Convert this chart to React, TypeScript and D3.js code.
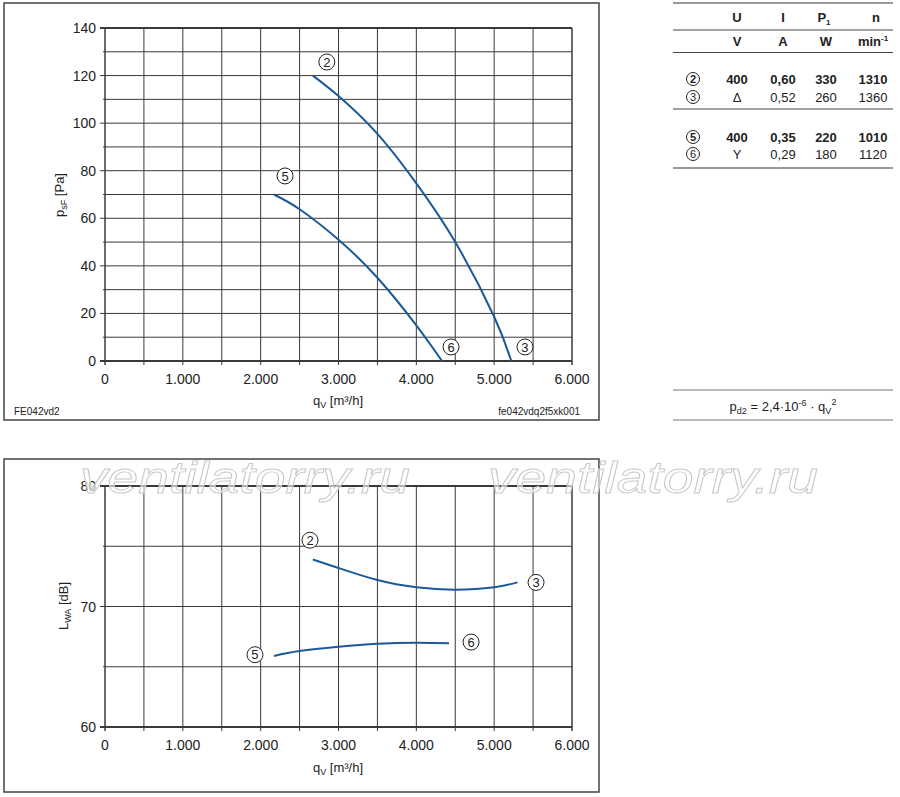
import * as d3 from "d3";
import React from "react";

// pressure curves (top chart)
const qHigh = [2670, 3000, 3500, 4000, 4500, 5000, 5220];
const pHigh = [120, 111.4, 95.5, 74.7, 50, 18.6, 0];
const qLow = [2170, 2500, 3000, 3500, 4000, 4330];
const pLow = [70, 63.8, 51, 35, 15, 0];

// sound power curves (bottom chart)
const qHighN = [2670, 3000, 3500, 4000, 4500, 5000, 5300];
const lHigh = [73.9, 73.2, 72.2, 71.6, 71.4, 71.6, 72.0];
const qLowN = [2170, 2500, 3000, 3500, 4000, 4420];
const lLow = [65.9, 66.3, 66.65, 66.9, 67.0, 66.95];

const xTicks = [0, 1000, 2000, 3000, 4000, 5000, 6000];
const pTicks = [0, 20, 40, 60, 80, 100, 120, 140];
const lTicks = [60, 70, 80];

// curve labels [id, q, value]
const topLabels: [string, number, number][] = [
  ["2", 2850, 125.7],
  ["5", 2313, 77.8],
  ["6", 4446, 5.9],
  ["3", 5396, 5.9],
];
const botLabels: [string, number, number][] = [
  ["2", 2634, 75.5],
  ["3", 5538, 72.0],
  ["5", 1927, 66.0],
  ["6", 4703, 67.05],
];

const tableRows = [
  { id: "2", u: "400", i: "0,60", p: "330", n: "1310", bold: true },
  { id: "3", u: "\u0394", i: "0,52", p: "260", n: "1360", bold: false },
  { id: "5", u: "400", i: "0,35", p: "220", n: "1010", bold: true },
  { id: "6", u: "Y", i: "0,29", p: "180", n: "1120", bold: false },
];

const FONT = "'Liberation Sans', Arial, sans-serif";
const BLUE = "#1b5a98";
const GRID = "#3a3a3a";

const fmt = (v: number) => (v === 0 ? "0" : d3.format(",")(v).replace(",", "."));

const x = d3.scaleLinear().domain([0, 6000]).range([105, 572]);
const yP = d3.scaleLinear().domain([0, 140]).range([361, 28]);
const yL = d3.scaleLinear().domain([60, 80]).range([727, 486]);

const Circled = ({ cx, cy, t, r = 8, fs = 13 }: any) => (
  <g>
    <circle cx={cx} cy={cy} r={r} fill="#fff" stroke="#222" strokeWidth={1} />
    <text x={cx} y={cy + fs * 0.36} textAnchor="middle" fontSize={fs} fill="#222">
      {t}
    </text>
  </g>
);

const Grid = ({ y, minor, major }: any) => {
  const [y0, y1] = y.range();
  const [d0, d1] = y.domain();
  const xs = d3.range(0, 6001, 500);
  return (
    <g>
      {minor.map((v: number) => (
        <line
          key={"h" + v}
          x1={x(0) - (major.includes(v) ? 5 : 2)}
          x2={x(6000)}
          y1={y(v)}
          y2={y(v)}
          stroke={GRID}
          strokeWidth={v === d0 || v === d1 ? 1.8 : 1}
        />
      ))}
      {xs.map((v) => (
        <line key={"v" + v} x1={x(v)} x2={x(v)} y1={y1} y2={y0 + 4} stroke={GRID} strokeWidth={v === 0 || v === 6000 ? 1.5 : 1} />
      ))}
      {major.map((v: number) => (
        <text key={"t" + v} x={x(0) - 9} y={y(v) + 5} textAnchor="end" fontSize={14} fill="#222">
          {v}
        </text>
      ))}
      {xTicks.map((v) => (
        <text key={"x" + v} x={x(v)} y={y0 + 23} textAnchor="middle" fontSize={14} fill="#222">
          {fmt(v)}
        </text>
      ))}
    </g>
  );
};

export default function App() {
  const path = (qs: number[], vs: number[], y: any) =>
    d3
      .line<number>()
      .x((d) => x(d))
      .y((_, i) => y(vs[i]))
      .curve(d3.curveNatural)(qs) as string;

  const colX = { id: 693, u: 737, i: 783, p: 826, n: 873 };
  const rowY = [84, 102, 142, 159];

  return (
    <svg
      width={900}
      height={797}
      style={{ position: "absolute", left: 0, top: 0, background: "#fff" }}
      fontFamily={FONT}
    >
      <rect width={900} height={797} fill="#fff" />

      {/* top chart */}
      <rect x={4} y={3} width={595} height={417} fill="none" stroke="#444" strokeWidth={1.5} />
      <Grid y={yP} minor={d3.range(0, 141, 10)} major={pTicks} />
      <path d={path(qHigh, pHigh, yP)} fill="none" stroke={BLUE} strokeWidth={2} />
      <path d={path(qLow, pLow, yP)} fill="none" stroke={BLUE} strokeWidth={2} />
      {topLabels.map(([t, q, v]) => (
        <Circled key={"tl" + t} cx={x(q)} cy={yP(v)} t={t} />
      ))}
      <text transform="translate(64,195) rotate(-90)" textAnchor="middle" fontSize={13} fill="#222">
        p<tspan fontSize={9} dy={3}>sF</tspan>
        <tspan dy={-3}> [Pa]</tspan>
      </text>
      <text x={338} y={405} textAnchor="middle" fontSize={13} fill="#222">
        q<tspan fontSize={9} dy={3}>V</tspan>
        <tspan dy={-3}> [m³/h]</tspan>
      </text>
      <text x={14} y={415} fontSize={10} fill="#222">FE042vd2</text>
      <text x={580} y={415} textAnchor="end" fontSize={10} fill="#222">fe042vdq2f5xk001</text>

      {/* table */}
      <line x1={673} x2={893} y1={3} y2={3} stroke="#999" strokeWidth={2} />
      <line x1={673} x2={893} y1={30} y2={30} stroke="#444" strokeWidth={1} />
      <line x1={673} x2={893} y1={52.5} y2={52.5} stroke="#444" strokeWidth={1} />
      <line x1={673} x2={893} y1={109} y2={109} stroke="#444" strokeWidth={1} />
      <line x1={673} x2={893} y1={168} y2={168} stroke="#999" strokeWidth={2} />
      <g fontSize={13} fontWeight="bold" fill="#222" textAnchor="middle">
        <text x={colX.u} y={22}>U</text>
        <text x={colX.i} y={22}>I</text>
        <text x={colX.p - 2} y={22}>
          P<tspan fontSize={8} dy={3}>1</tspan>
        </text>
        <text x={colX.n + 3} y={22}>n</text>
        <text x={colX.u} y={46}>V</text>
        <text x={colX.i} y={46}>A</text>
        <text x={colX.p} y={46}>W</text>
        <text x={colX.n} y={46}>
          min<tspan fontSize={8} dy={-5}>-1</tspan>
        </text>
      </g>
      {tableRows.map((r, k) => (
        <g key={r.id} fontSize={13} fill="#222" textAnchor="middle" fontWeight={r.bold ? "bold" : "normal"}>
          <Circled cx={colX.id} cy={rowY[k] - 5} t={r.id} r={6.5} fs={11} />
          <text x={colX.u} y={rowY[k]}>{r.u}</text>
          <text x={colX.i} y={rowY[k]}>{r.i}</text>
          <text x={colX.p} y={rowY[k]}>{r.p}</text>
          <text x={colX.n} y={rowY[k]}>{r.n}</text>
        </g>
      ))}

      {/* formula */}
      <line x1={673} x2={893} y1={390} y2={390} stroke="#777" strokeWidth={1} />
      <line x1={673} x2={893} y1={420} y2={420} stroke="#777" strokeWidth={1} />
      <text x={783} y={411} textAnchor="middle" fontSize={13} fill="#222">
        p<tspan fontSize={9} dy={3}>d2</tspan>
        <tspan dy={-3}> = 2,4·10</tspan>
        <tspan fontSize={9} dy={-5}>-6</tspan>
        <tspan dy={5}> · q</tspan>
        <tspan fontSize={9} dy={3}>V</tspan>
        <tspan fontSize={9} dy={-9}>2</tspan>
      </text>

      {/* bottom chart */}
      <rect x={4} y={459} width={595} height={333} fill="none" stroke="#444" strokeWidth={1.5} />
      <Grid y={yL} minor={[60, 65, 70, 75, 80]} major={lTicks} />
      <path d={path(qHighN, lHigh, yL)} fill="none" stroke={BLUE} strokeWidth={2} />
      <path d={path(qLowN, lLow, yL)} fill="none" stroke={BLUE} strokeWidth={2} />
      {botLabels.map(([t, q, v]) => (
        <Circled key={"bl" + t} cx={x(q)} cy={yL(v)} t={t} />
      ))}
      <text transform="translate(68,606) rotate(-90)" textAnchor="middle" fontSize={13} fill="#222">
        L<tspan fontSize={9} dy={3}>WA</tspan>
        <tspan dy={-3}> [dB]</tspan>
      </text>
      <text x={338} y={772} textAnchor="middle" fontSize={13} fill="#222">
        q<tspan fontSize={9} dy={3}>V</tspan>
        <tspan dy={-3}> [m³/h]</tspan>
      </text>

      {/* watermark */}
      {[80, 488].map((wx) => (
        <text
          key={wx}
          x={wx}
          y={493}
          fontSize={44}
          fontStyle="italic"
          fill="#fff"
          fillOpacity={0.6}
          stroke="#c8c8c8"
          strokeWidth={0.9}
          textLength={330}
          lengthAdjust="spacingAndGlyphs"
        >
          ventilatorry.ru
        </text>
      ))}
    </svg>
  );
}
